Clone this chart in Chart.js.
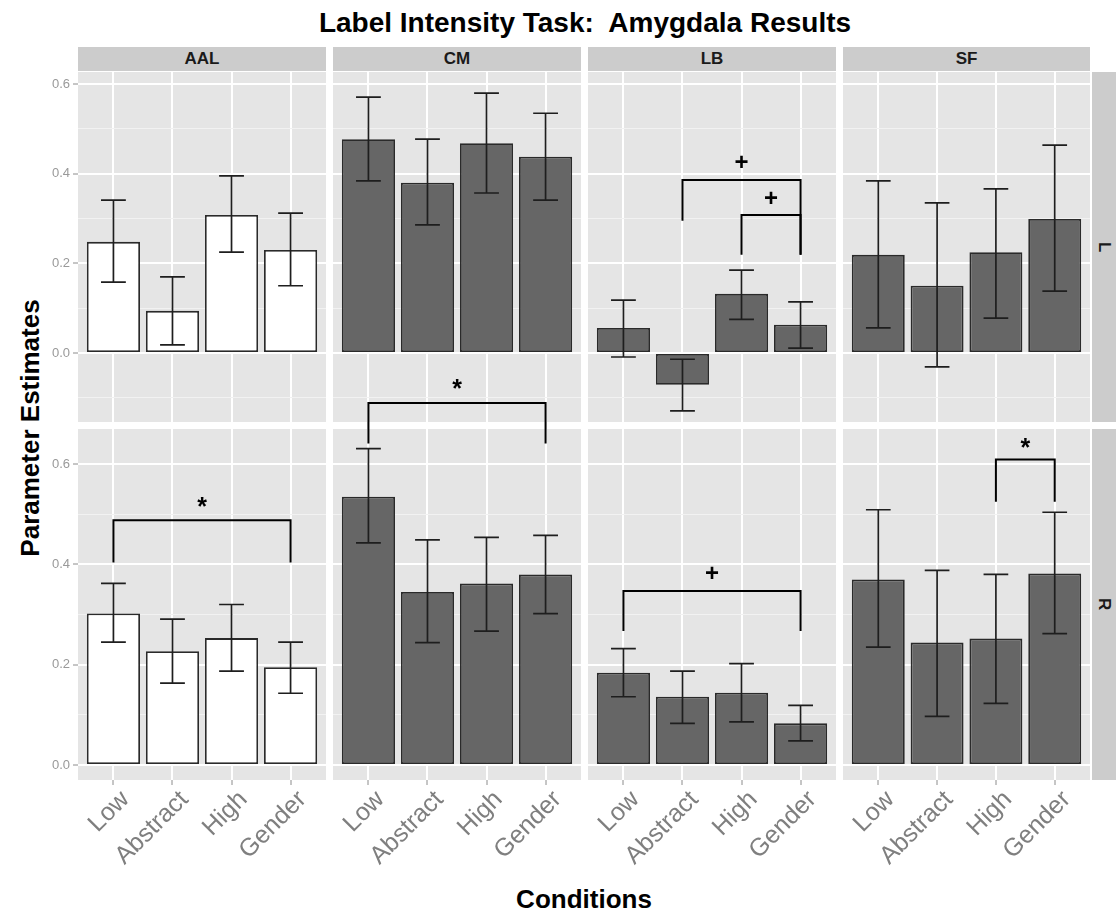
<!DOCTYPE html>
<html>
<head>
<meta charset="utf-8">
<script src="https://cdn.jsdelivr.net/npm/chart.js@4.4.1/dist/chart.umd.min.js"></script>
<style>
  body { margin: 0; background: #fff; width: 1116px; height: 915px; position: relative; overflow: hidden;
         font-family: "Liberation Sans", Arial, sans-serif; }
  canvas { position: absolute; }
  .strip { position: absolute; background: #cccccc; color: #1a1a1a; font-weight: bold; font-size: 17px;
           display: flex; align-items: center; justify-content: center; }
  .side { writing-mode: vertical-rl; }
  .txt { position: absolute; font-weight: bold; color: #000; white-space: nowrap; }
</style>
</head>
<body>
<div class="txt" style="left:0;width:1170px;top:7px;text-align:center;font-size:28px;">Label Intensity Task:&nbsp; Amygdala Results</div>
<div class="txt" style="left:30px;top:428px;font-size:26px;transform:translate(-50%,-50%) rotate(-90deg);">Parameter Estimates</div>
<div class="txt" style="left:0;width:1168px;top:884px;text-align:center;font-size:26px;">Conditions</div>

<script>
const conditions = ['Low', 'Abstract', 'High', 'Gender'];
const regions = ['AAL', 'CM', 'LB', 'SF'];
const hemispheres = ['L', 'R'];
const yTicksL = [-0.1, 0, 0.1, 0.2, 0.3, 0.4, 0.5, 0.6];
const yTicksR = [0, 0.1, 0.2, 0.3, 0.4, 0.5, 0.6];

// left hemisphere: means, lower and upper error limits
const aalL   = [0.248, 0.094, 0.308, 0.230];
const aalLLo = [0.158, 0.018, 0.225, 0.150];
const aalLHi = [0.341, 0.170, 0.395, 0.312];
const cmL    = [0.477, 0.380, 0.468, 0.438];
const cmLLo  = [0.384, 0.286, 0.357, 0.341];
const cmLHi  = [0.571, 0.477, 0.580, 0.535];
const lbL    = [0.056, -0.071, 0.132, 0.063];
const lbLLo  = [-0.009, -0.129, 0.075, 0.011];
const lbLHi  = [0.118, -0.014, 0.185, 0.114];
const sfL    = [0.219, 0.150, 0.225, 0.299];
const sfLLo  = [0.056, -0.031, 0.078, 0.138];
const sfLHi  = [0.384, 0.335, 0.366, 0.464];

// right hemisphere
const aalR   = [0.302, 0.227, 0.253, 0.195];
const aalRLo = [0.245, 0.163, 0.187, 0.143];
const aalRHi = [0.362, 0.291, 0.320, 0.245];
const cmR    = [0.535, 0.345, 0.362, 0.380];
const cmRLo  = [0.443, 0.244, 0.267, 0.302];
const cmRHi  = [0.631, 0.449, 0.454, 0.458];
const lbR    = [0.184, 0.136, 0.144, 0.083];
const lbRLo  = [0.136, 0.083, 0.086, 0.048];
const lbRHi  = [0.232, 0.187, 0.202, 0.119];
const sfR    = [0.370, 0.244, 0.252, 0.382];
const sfRLo  = [0.235, 0.097, 0.123, 0.262];
const sfRHi  = [0.509, 0.388, 0.380, 0.504];

// significance brackets: [from, to, bar y, left leg end, right leg end, label, label y]
const lbLBrackets  = [[2, 4, 0.386, 0.295, 0.219, '+', 0.424], [3, 4, 0.308, 0.219, 0.219, '+', 0.342]];
const aalRBrackets = [[1, 4, 0.488, 0.404, 0.404, '*', 0.522]];
const cmRBrackets  = [[1, 4, 0.722, 0.641, 0.641, '*', 0.758]];
const lbRBrackets  = [[1, 4, 0.347, 0.267, 0.267, '+', 0.380]];
const sfRBrackets  = [[3, 4, 0.609, 0.525, 0.525, '*', 0.640]];

const panels = [
  [aalL, aalLLo, aalLHi, []], [cmL, cmLLo, cmLHi, []], [lbL, lbLLo, lbLHi, lbLBrackets], [sfL, sfLLo, sfLHi, []],
  [aalR, aalRLo, aalRHi, aalRBrackets], [cmR, cmRLo, cmRHi, cmRBrackets], [lbR, lbRLo, lbRHi, lbRBrackets], [sfR, sfRLo, sfRHi, sfRBrackets]
];

// layout
const colLeft = [78, 333, 588, 843];
const colW = [248, 248, 248, 247];
const rowTop = [72, 429];
const rowH = [350, 351];
const yRange = [[-0.154, 0.627], [-0.030, 0.670]];
const yAxisW = 40, xAxisH = 120, extraTop = 56;

// strips
regions.forEach((r, i) => {
  const d = document.createElement('div');
  d.className = 'strip';
  d.style.cssText = `left:${colLeft[i]}px;top:47px;width:${colW[i]}px;height:24px;`;
  d.textContent = r;
  document.body.appendChild(d);
});
hemispheres.forEach((h, i) => {
  const d = document.createElement('div');
  d.className = 'strip side';
  d.style.cssText = `left:1092px;top:${rowTop[i]}px;width:24px;height:${rowH[i]}px;`;
  d.textContent = h;
  document.body.appendChild(d);
});

const isMajor = v => Math.abs(Math.round(v * 10)) % 2 === 0;

const panelBg = {
  id: 'panelBg',
  beforeDraw(chart) {
    const a = chart.chartArea, ctx = chart.ctx;
    ctx.save();
    ctx.fillStyle = '#e5e5e5';
    ctx.fillRect(a.left, a.top, a.right - a.left, a.bottom - a.top);
    ctx.restore();
  }
};

function extras(lo, hi, brackets) {
  return {
    id: 'extras',
    afterDatasetsDraw(chart) {
      const ctx = chart.ctx, xs = chart.scales.x, ys = chart.scales.y;
      const half = xs.getPixelForValue(1.21) - xs.getPixelForValue(1);
      ctx.save();
      ctx.strokeStyle = '#1e1e1e';
      ctx.lineWidth = 1.7;
      lo.forEach((l, i) => {
        const x = xs.getPixelForValue(i + 1);
        const y1 = ys.getPixelForValue(l), y2 = ys.getPixelForValue(hi[i]);
        ctx.beginPath();
        ctx.moveTo(x, y1); ctx.lineTo(x, y2);
        ctx.moveTo(x - half, y1); ctx.lineTo(x + half, y1);
        ctx.moveTo(x - half, y2); ctx.lineTo(x + half, y2);
        ctx.stroke();
      });
      ctx.strokeStyle = '#000';
      ctx.lineWidth = 2;
      ctx.fillStyle = '#000';
      ctx.textAlign = 'center';
      ctx.textBaseline = 'middle';
      brackets.forEach(b => {
        const x1 = xs.getPixelForValue(b[0]), x2 = xs.getPixelForValue(b[1]);
        const yb = ys.getPixelForValue(b[2]);
        ctx.beginPath();
        ctx.moveTo(x1, ys.getPixelForValue(b[3]));
        ctx.lineTo(x1, yb); ctx.lineTo(x2, yb);
        ctx.lineTo(x2, ys.getPixelForValue(b[4]));
        ctx.stroke();
        const ly = ys.getPixelForValue(b[6]);
        if (b[5] === '*') {
          ctx.font = 'bold 25px "Liberation Sans", Arial, sans-serif';
          ctx.fillText('*', (x1 + x2) / 2, ly + 5);
        } else {
          ctx.font = 'bold 24px "Liberation Sans", Arial, sans-serif';
          ctx.fillText('+', (x1 + x2) / 2, ly);
        }
      });
      ctx.restore();
    }
  };
}

panels.forEach((p, k) => {
  const col = k % 4, row = Math.floor(k / 4);
  const [vals, lo, hi, brackets] = p;
  const isLeft = col === 0, isBottom = row === 1;
  const top = row === 1 ? rowTop[1] - extraTop : rowTop[0];
  const padTop = row === 1 ? extraTop : 0;
  const w = colW[col] + (isLeft ? yAxisW : 0);
  const h = padTop + rowH[row] + (isBottom ? xAxisH : 0);
  const cv = document.createElement('canvas');
  cv.width = w; cv.height = h;
  cv.style.left = (colLeft[col] - (isLeft ? yAxisW : 0)) + 'px';
  cv.style.top = top + 'px';
  cv.style.width = w + 'px'; cv.style.height = h + 'px';
  document.body.appendChild(cv);

  const fill = col === 0 ? '#ffffff' : '#666666';
  const yt = row === 0 ? yTicksL : yTicksR;

  new Chart(cv, {
    type: 'bar',
    data: {
      datasets: [{
        data: vals.map((v, i) => ({ x: i + 1, y: v })),
        backgroundColor: fill,
        borderColor: '#2a2a2a',
        borderWidth: 1.8,
        borderSkipped: false,
        barPercentage: 0.9,
        categoryPercentage: 1
      }]
    },
    options: {
      responsive: false,
      animation: false,
      devicePixelRatio: 1,
      layout: { padding: { top: padTop, left: 0, right: 0, bottom: 0 } },
      plugins: { legend: { display: false }, tooltip: { enabled: false } },
      scales: {
        x: {
          type: 'linear', min: 0.4, max: 4.6, offset: false,
          afterBuildTicks: ax => { ax.ticks = conditions.map((c, i) => ({ value: i + 1 })); },
          afterFit: ax => { ax.height = isBottom ? xAxisH : 0; ax.paddingLeft = 0; ax.paddingRight = 0; },
          grid: { offset: false, color: '#ffffff', lineWidth: 2, drawTicks: isBottom, tickLength: 5,
                  tickColor: '#8c8c8c', tickWidth: 1 },
          border: { display: false },
          ticks: {
            display: isBottom, autoSkip: false, minRotation: 45, maxRotation: 45, padding: 0,
            labelOffset: 12,
            color: '#7f7f7f', font: { family: '"Liberation Sans", Arial, sans-serif', size: 25 },
            callback: v => conditions[Math.round(v) - 1]
          }
        },
        y: {
          type: 'linear', min: yRange[row][0], max: yRange[row][1],
          afterBuildTicks: ax => { ax.ticks = yt.map(v => ({ value: v })); },
          afterFit: ax => { ax.width = isLeft ? yAxisW : 0; ax.paddingTop = 0; ax.paddingBottom = 0; },
          grid: {
            color: c => (isMajor(c.tick.value) ? '#ffffff' : '#f2f2f2'),
            lineWidth: c => (isMajor(c.tick.value) ? 2 : 1),
            drawTicks: isLeft, tickLength: 5, tickWidth: 1,
            tickColor: c => (isMajor(c.tick.value) ? '#8c8c8c' : 'rgba(0,0,0,0)')
          },
          border: { display: false },
          ticks: {
            display: isLeft, padding: 3, color: '#999999',
            font: { family: '"Liberation Sans", Arial, sans-serif', size: 13 },
            callback: v => (isMajor(v) ? v.toFixed(1) : '')
          }
        }
      }
    },
    plugins: [panelBg, extras(lo, hi, brackets)]
  });
});
</script>
</body>
</html>
